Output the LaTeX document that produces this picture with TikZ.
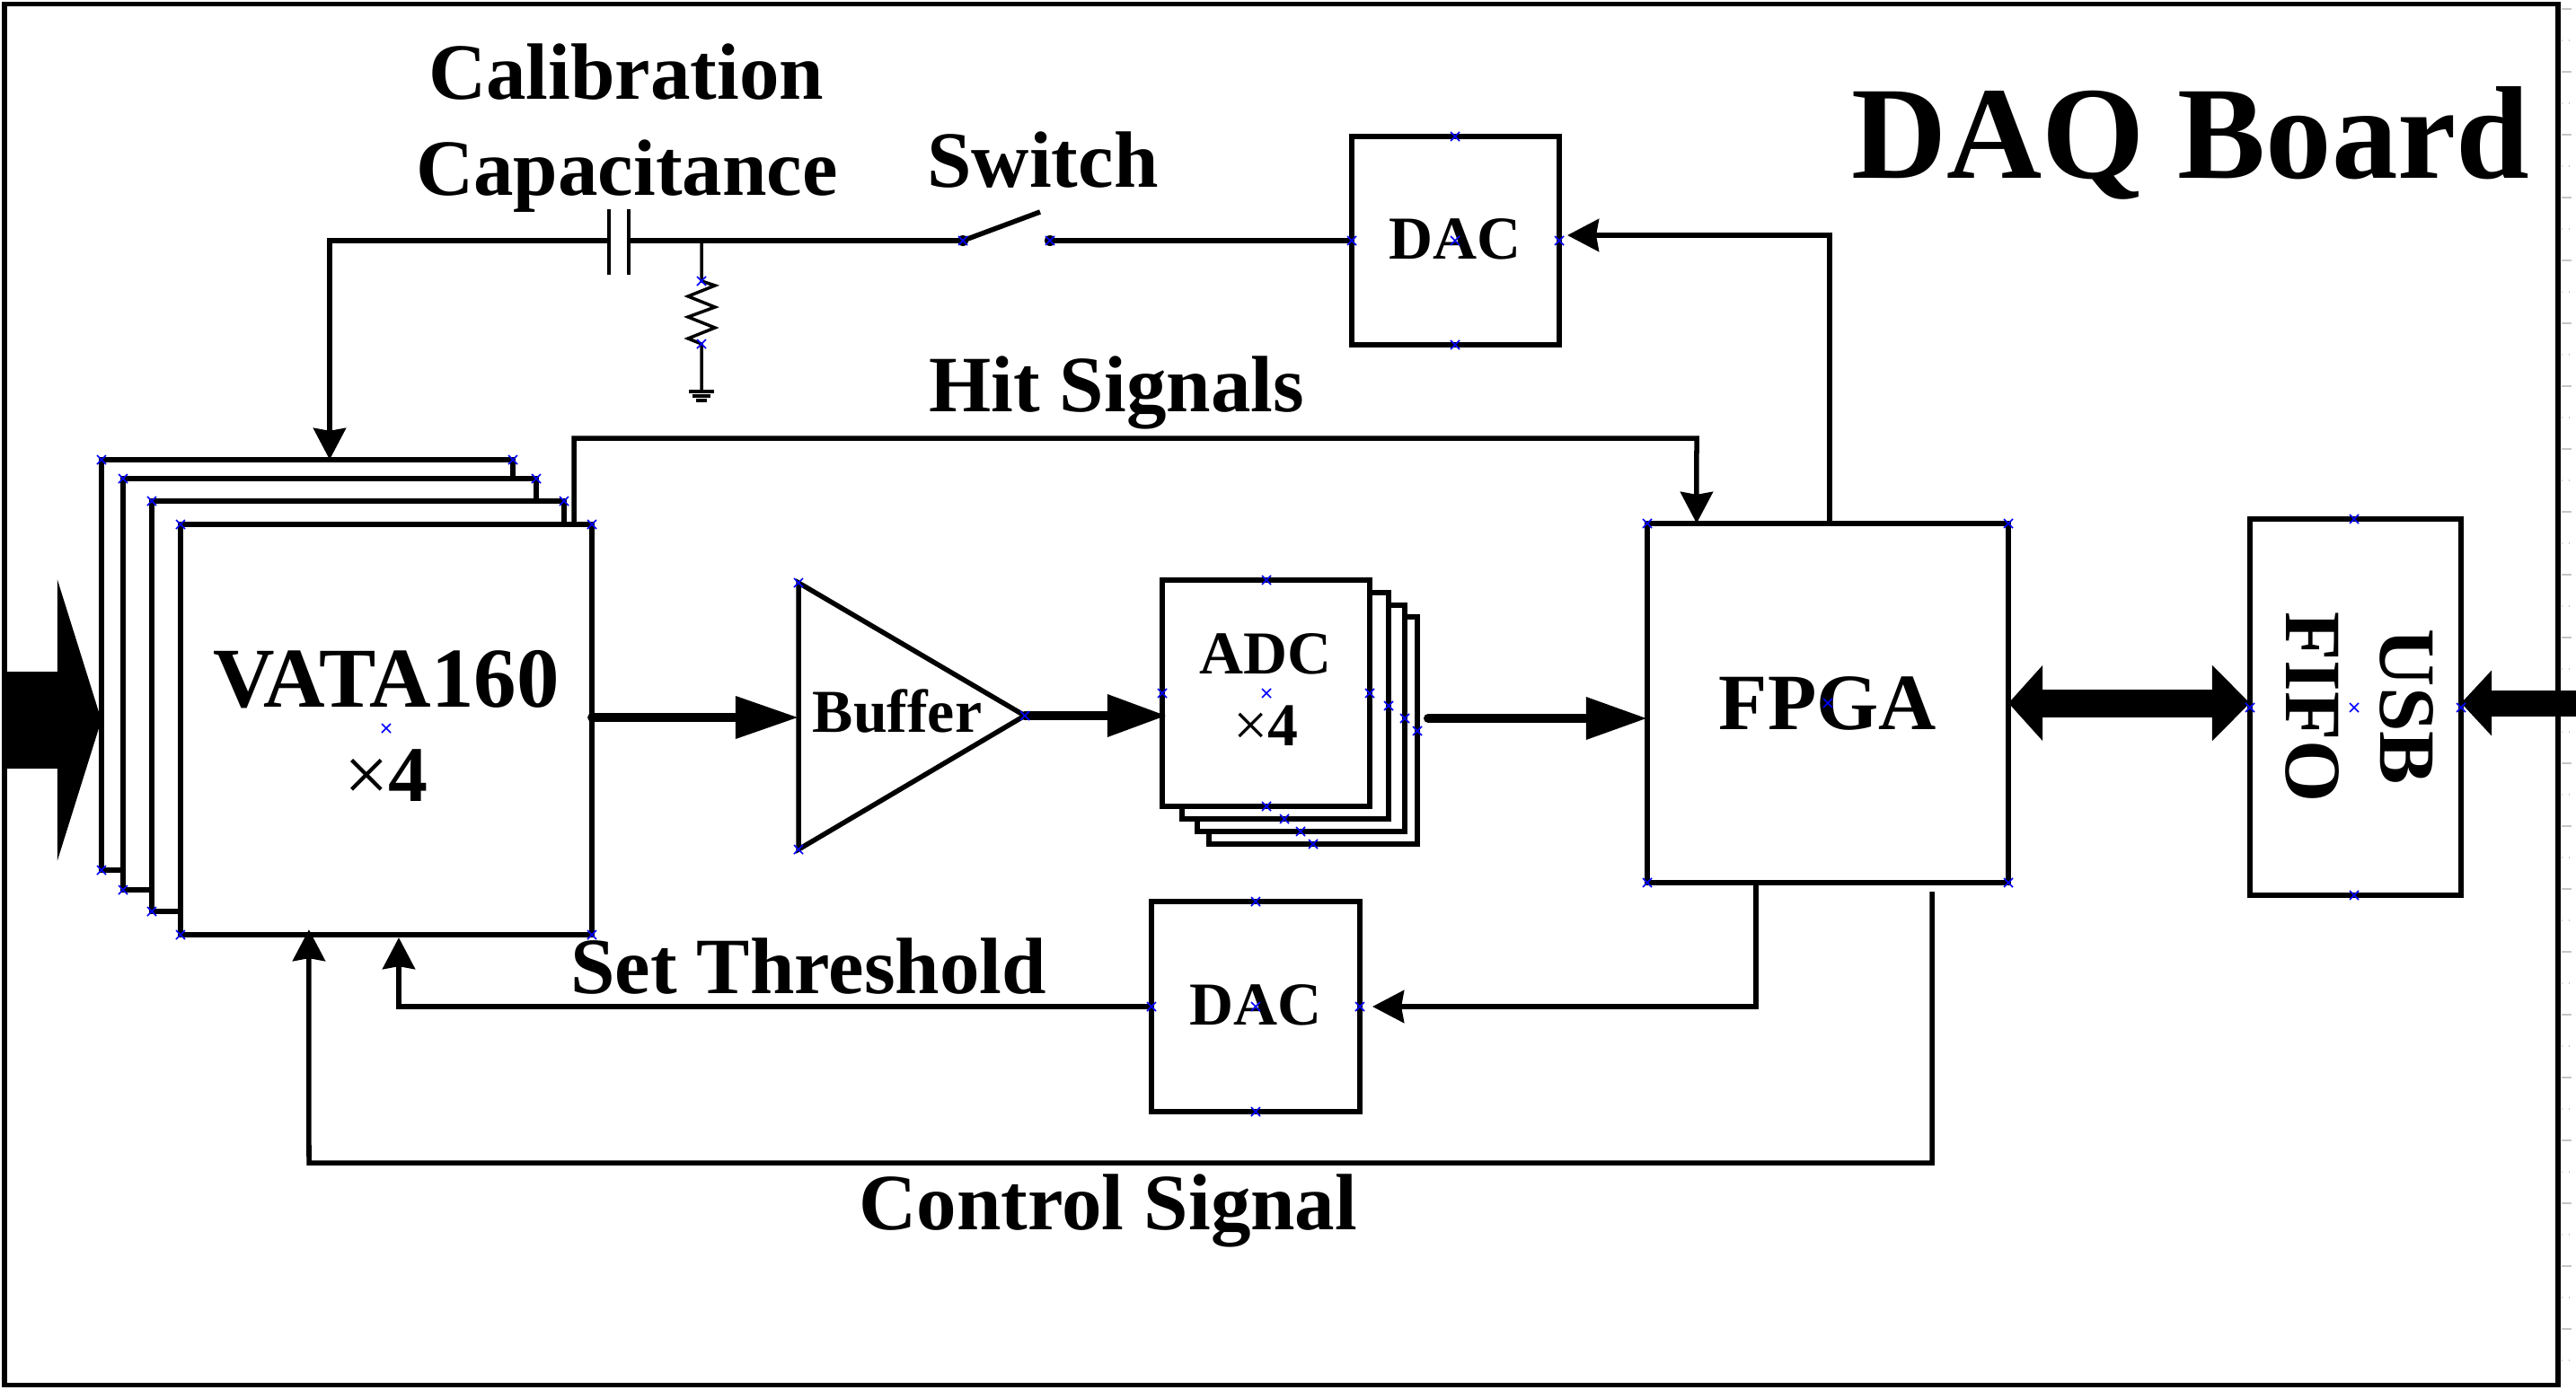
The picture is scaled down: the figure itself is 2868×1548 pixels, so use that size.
\documentclass[tikz,border=0pt]{standalone}
\usepackage{fontspec}
\setmainfont{Liberation Serif}
\usetikzlibrary{positioning,arrows.meta}
\newcommand{\timesfour}{{\mdseries ×}4}
\tikzset{
  wire/.style={line width=0.055cm},
  thinwire/.style={line width=0.035cm},
  fatwire/.style={line width=0.1cm,line cap=round},
  board/.style={draw,line width=0.055cm,inner sep=0,outer sep=0},
  chip/.style={draw,fill=white,line width=0.055cm,inner sep=0,outer sep=0,align=center},
  biglabel/.style={inner sep=0,font=\fontsize{25.3}{30}\selectfont\bfseries,align=center},
  smalllabel/.style={inner sep=0,font=\fontsize{19.3}{23}\selectfont\bfseries,align=center},
  handle/.style={blue,line width=0.015cm},
  tick/.style={gray!45,line width=0.012cm}
}
\begin{document}
\begin{tikzpicture}[x=0.01cm,y=-0.01cm,>={Stealth[length=0.35cm,width=0.36cm,inset=0.03cm]}]
\useasboundingbox (0,0) rectangle (2868,1548);
\node[board,minimum width=28.41cm,minimum height=15.37cm] (daq) at (1426.5,773.5) {};
\foreach \ty in {10,80,...,1530} \draw[tick,dashed] (2852,\ty) -- (2868,\ty);
\foreach \ty in {45,115,...,1530} \draw[tick,dotted] (2852,\ty) -- (2868,\ty);
\node[biglabel,font=\fontsize{41.8}{50}\selectfont\bfseries,anchor=base] (title) at (2439,198) {DAQ Board};

\node[chip,minimum width=4.58cm,minimum height=4.57cm] (vata1) at (342,740.5) {};
\node[chip,minimum width=4.6cm,minimum height=4.58cm] (vata2) at (367,762) {};
\node[chip,minimum width=4.59cm,minimum height=4.57cm] (vata3) at (398.5,786.5) {};
\node[chip,biglabel,font=\fontsize{27}{29.9}\selectfont\bfseries,text depth=0.08cm,minimum width=4.58cm,minimum height=4.57cm] (vata4) at (430,812.5) {VATA160\\\fontsize{25}{29.9}\selectfont\timesfour};

\node[chip,minimum width=2.32cm,minimum height=2.53cm] (adc4) at (1462,813.5) {};
\node[chip,minimum width=2.31cm,minimum height=2.52cm] (adc3) at (1448.5,800) {};
\node[chip,minimum width=2.3cm,minimum height=2.52cm] (adc2) at (1431,786) {};
\node[chip,smalllabel,text depth=0.08cm,minimum width=2.31cm,minimum height=2.52cm] (adc1) at (1409.5,772) {ADC\\\timesfour};

\node[chip,biglabel,minimum width=4.02cm,minimum height=4cm] (fpga) at (2035,783) {FPGA};
\node[chip,minimum width=2.35cm,minimum height=4.19cm] (usb) at (2622.5,787.5) {};
\node[biglabel,rotate=-90] (usblabel) at (2627,787.5) {USB\\FIFO};
\node[chip,smalllabel,text depth=0.04cm,minimum width=2.31cm,minimum height=2.32cm] (dactop) at (1620.5,268) {DAC};
\node[chip,smalllabel,text depth=0.04cm,minimum width=2.32cm,minimum height=2.34cm] (dacbot) at (1398,1121) {DAC};

\draw[wire,fill=white] (889,649) -- (889,946) -- (1141,797) -- cycle;
\coordinate (bufin) at (889,799);
\coordinate (bufout) at (1141,797);
\node[smalllabel,anchor=base] (buflabel) at (999,815) {Buffer};

\node[biglabel,anchor=base] (calib) at (697,110) {Calibration};
\node[biglabel,anchor=base] (capac) at (698,217) {Capacitance};
\node[biglabel,anchor=base] (switch) at (1161,208) {Switch};
\node[biglabel,anchor=base] (hit) at (1243,458) {Hit Signals};
\node[biglabel,anchor=base] (thresh) at (900,1106) {Set Threshold};
\node[biglabel,anchor=base] (ctrl) at (1234,1369) {Control Signal};

\coordinate (capa) at (678,268);
\coordinate (capb) at (700,268);
\coordinate (swa) at (1072,268);
\coordinate (swb) at (1169,268);
\coordinate (rtop) at (781,313);
\coordinate (rbot) at (781,383);
\coordinate (gnd) at (781,435);
\draw[thinwire] (678,233) -- (678,306);
\draw[thinwire] (700,233) -- (700,306);
\draw[wire,->] (capa) -| ([xshift=0.25cm]vata1.north);
\draw[wire] (capb) -- (swa);
\draw[wire] (swa) -- (1158,236);
\draw[wire] (swb) -- (dactop.west);
\fill (swa) circle (6);
\fill (swb) circle (6);
\draw[thinwire] (781,268) -- (rtop) -- (796,318) -- (766,330) -- (796,342) -- (766,353) -- (796,365) -- (766,377) -- (rbot) -- (gnd);
\draw[thinwire] (767,436) -- (795,436);
\draw[thinwire] (771,441) -- (791,441);
\draw[thinwire] (775,446) -- (787,446);

\draw[wire,->] ([xshift=2.09cm]vata4.north) |- (1889,488) -- ([xshift=-1.46cm]fpga.north);
\draw[wire,->] ([xshift=0.02cm]fpga.north) |- (1745,262);
\draw[wire,->] ([xshift=-0.8cm]fpga.south) |- ([xshift=0.14cm]dacbot.east);
\draw[wire,->] (dacbot.west) -| ([xshift=0.14cm,yshift=-0.03cm]vata4.south);
\draw[wire,->] ([xshift=1.16cm,yshift=-0.1cm]fpga.south) |- (344,1295) -- ([xshift=-0.86cm,yshift=0.06cm]vata4.south);

\draw[fatwire,-{Triangle[length=0.7cm,width=0.45cm]}] (vata4.east |- bufin) -- (bufin);
\draw[fatwire,-{Triangle[length=0.66cm,width=0.45cm]}] (bufout) -- ([xshift=0.05cm]adc1.west |- bufout);
\draw[fatwire,-{Triangle[length=0.68cm,width=0.45cm]}] (1590,800) -- (fpga.west |- 1590,800);

\coordinate (sigin) at (6,802);
\draw[line width=1.07cm,-{Triangle[length=0.49cm,width=3.12cm]}] (sigin) -- (sigin -| vata1.west);
\draw[line width=0.31cm,{Triangle[length=0.38cm,width=0.82cm]}-{Triangle[length=0.42cm,width=0.82cm]}] (fpga.east |- 0,783) -- (usb.west |- 0,783);
\coordinate (usbin) at (2868,783);
\draw[line width=0.29cm,-{Triangle[length=0.34cm,width=0.71cm]}] (usbin) -- (usbin -| usb.east);

\foreach \mx/\my in {113/512,571/512,113/969,137/533,597/533,137/991,169/558,628/558,169/1015,201/584,659/584,201/1041,659/1041,430/811,
  1294/772,1410/646,1410/772,1525/772,1410/898,1546/786,1430/912,1564/800,1448/926,1578/814,1462/940,
  889/649,889/946,1141/797,1834/583,2236/583,1834/983,2236/983,2035/783,
  2621/578,2621/997,2505/788,2621/788,2740/788,
  1620/152,1620/384,1505/268,1736/268,1620/268,
  1398/1004,1398/1238,1282/1121,1514/1121,1398/1121,
  781/313,781/383,1072/268,1169/268}
  \draw[handle] (\mx-5,\my-5) -- (\mx+5,\my+5) (\mx-5,\my+5) -- (\mx+5,\my-5);
\end{tikzpicture}
\end{document}
